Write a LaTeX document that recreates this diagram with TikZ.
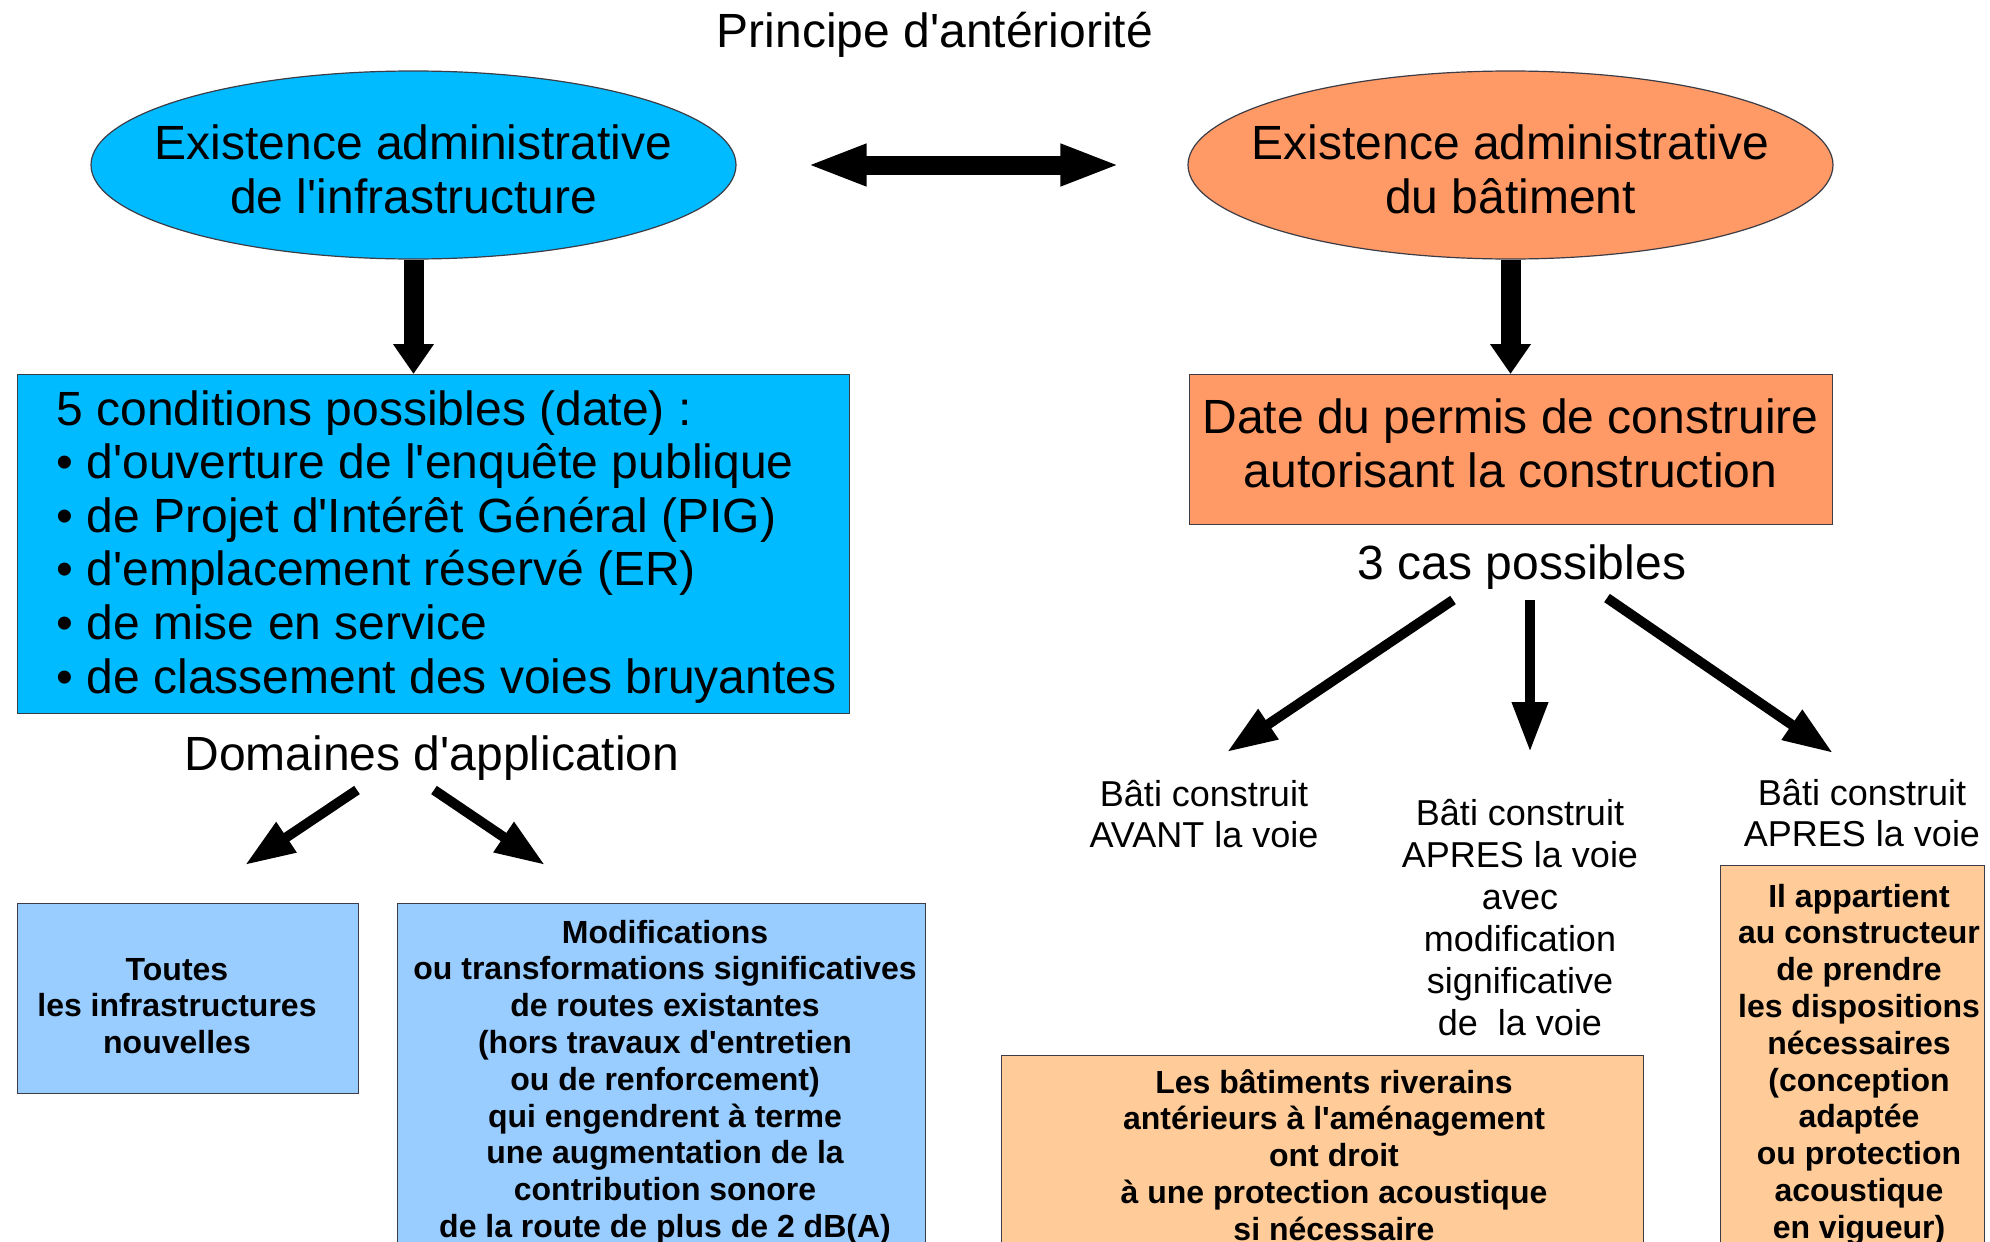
\documentclass[tikz,border=0pt]{standalone}
\usepackage{fontspec}
\setmainfont{Liberation Sans}
\usetikzlibrary{arrows.meta,shapes.geometric}
\definecolor{cyanfill}{RGB}{0,187,255}
\definecolor{orangefill}{RGB}{255,153,102}
\definecolor{lightbluefill}{RGB}{153,204,255}
\definecolor{lightorangefill}{RGB}{255,204,153}
\definecolor{edgecol}{RGB}{60,60,70}
\newcommand{\aposq}{\textquotesingle}
\begin{document}
\begin{tikzpicture}[x=1pt,y=-1pt,
  big/.style={font=\fontsize{48}{53.6}\selectfont},
  med/.style={font=\fontsize{36}{41}\selectfont},
  bsm/.style={font=\bfseries\fontsize{32}{36.8}\selectfont},
  ellshape/.style={ellipse, draw=edgecol, line width=1.2pt, minimum width=645pt, minimum height=188pt, inner sep=0pt},
  boxshape/.style={rectangle, draw=edgecol, line width=1.2pt, inner sep=0pt},
  thickarrow/.style={line width=20pt, -{Triangle[length=30pt,width=39pt]}},
  dblarrow/.style={line width=19pt, {Triangle[length=60pt,width=38pt]}-{Triangle[length=60pt,width=38pt]}},
  thinarrow/.style={line width=10pt, -{Triangle[length=50pt,width=34pt]}}
]
\useasboundingbox (0,0) rectangle (1990,1242);
\clip (0,0) rectangle (1990,1242);
\fill[white] (0,0) rectangle (1990,1242);

% title
\node[big, anchor=base] (title) at (935,47) {Principe d\aposq antériorité};

% ellipses
\node[ellshape, fill=cyanfill] (ell1) at (413.5,165) {};
\node[big, align=center, anchor=base] (ell1t) at (413.5,213) {Existence administrative\\de l\aposq infrastructure};
\node[ellshape, fill=orangefill] (ell2) at (1510.5,165) {};
\node[big, align=center, anchor=base] (ell2t) at (1510.5,213) {Existence administrative\\du bâtiment};

\draw[dblarrow, shorten <=70pt, shorten >=67pt] (ell1.east) -- (ell2.west);

% upper boxes
\node[boxshape, fill=cyanfill, minimum width=832pt, minimum height=339pt, anchor=north west] (box1) at (17,374) {};
\node[big, align=left, anchor=base west] (box1t) at (53,693) {5 conditions possibles (date) :\\
• d\aposq ouverture de l\aposq enquête publique\\
• de Projet d\aposq Intérêt Général (PIG)\\
• d\aposq emplacement réservé (ER)\\
• de mise en service\\
• de classement des voies bruyantes};

\node[boxshape, fill=orangefill, minimum width=643pt, minimum height=150pt, anchor=north west] (box2) at (1189,374) {};
\node[big, align=center, anchor=base] (box2t) at (1510.5,487) {Date du permis de construire\\autorisant la construction};

\draw[thickarrow] (ell1.south) -- (ell1.south |- box1.north);
\draw[thickarrow] (ell2.south) -- (ell2.south |- box2.north);

% left branch
\node[big, anchor=base] (dom) at (432,770) {Domaines d\aposq application};
\coordinate (d1s) at (357,790);
\coordinate (d1e) at (245,865);
\coordinate (d2s) at (434,790);
\coordinate (d2e) at (545,865);
\draw[thinarrow] (d1s) -- (d1e);
\draw[thinarrow] (d2s) -- (d2e);

\node[boxshape, fill=lightbluefill, minimum width=341pt, minimum height=190pt, anchor=north west] (b3) at (17,903) {};
\node[bsm, align=center, anchor=base] (b3t) at (177,1053.6) {Toutes\\les infrastructures\\nouvelles};

\node[boxshape, fill=lightbluefill, minimum width=528pt, minimum height=420pt, anchor=north west] (b4) at (397,903) {};
\node[bsm, align=center, anchor=base] (b4t) at (665,1237.4) {Modifications\\
ou transformations significatives\\
de routes existantes\\
(hors travaux d\aposq entretien\\
ou de renforcement)\\
qui engendrent à terme\\
une augmentation de la\\
contribution sonore\\
de la route de plus de 2 dB(A)};

% right branch
\node[big, anchor=base] (cas) at (1522,579) {3 cas possibles};
\coordinate (c1s) at (1453,600);
\coordinate (c1e) at (1227,752);
\coordinate (c2s) at (1530,600);
\coordinate (c2e) at (1530,752);
\coordinate (c3s) at (1607,598);
\coordinate (c3e) at (1833,753);
\draw[thinarrow] (c1s) -- (c1e);
\draw[thinarrow] (c2s) -- (c2e);
\draw[thinarrow] (c3s) -- (c3e);

\node[med, align=center, anchor=base] (lab1) at (1204,847) {Bâti construit\\AVANT la voie};
\node[med, align=center, anchor=base, font=\fontsize{36}{42}\selectfont] (lab2) at (1520,1035) {Bâti construit\\APRES la voie\\avec\\modification\\significative\\de\ \ la voie};
\node[med, align=center, anchor=base] (lab3) at (1862,846) {Bâti construit\\APRES la voie};

\node[boxshape, fill=lightorangefill, minimum width=642pt, minimum height=300pt, anchor=north west] (b5) at (1001,1055) {};
\node[bsm, align=center, anchor=base] (b5t) at (1334,1240.2) {Les bâtiments riverains\\
antérieurs à l\aposq aménagement\\
ont droit\\
à une protection acoustique\\
si nécessaire};

\node[boxshape, fill=lightorangefill, minimum width=264pt, minimum height=420pt, anchor=north west] (b6) at (1720,865) {};
\node[bsm, align=center, anchor=base] (b6t) at (1859,1238.2) {Il appartient\\
au constructeur\\
de prendre\\
les dispositions\\
nécessaires\\
(conception\\
adaptée\\
ou protection\\
acoustique\\
en vigueur)};
\end{tikzpicture}
\end{document}
